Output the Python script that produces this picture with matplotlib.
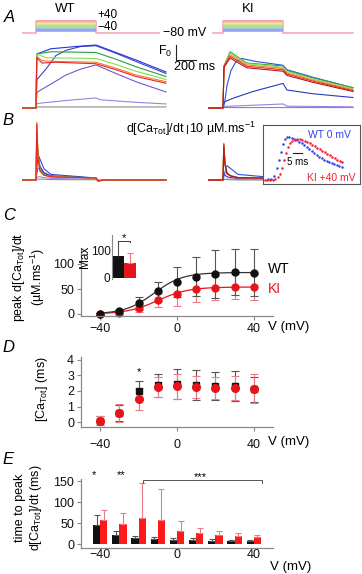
import numpy as np
import matplotlib.pyplot as plt

plt.rcParams['font.family'] = ['Liberation Sans', 'DejaVu Sans']
plt.rcParams['mathtext.fontset'] = 'custom'
plt.rcParams['mathtext.rm'] = 'Liberation Sans'
plt.rcParams['mathtext.it'] = 'Liberation Sans:italic'

# ---------------- data ----------------
volts = [-40, -30, -20, -10, 0, 10, 20, 30, 40]
pulse_ms = 600

# protocol band colours (-40 ... +40)
prot_cols = ['#a99be0', '#9b9ae6', '#8fa9ea', '#8dcfe0', '#96d88e',
             '#bae67a', '#efe27a', '#f7c18c', '#f5a0b4']

# A: fluorescence traces (time ms, F/F0) WT
a_wt_t = [[-140, 0, 10, 1300],
          [-140, 0, 10, 300, 600, 640, 1000, 1300],
          [-140, 0, 10, 150, 300, 450, 600, 800, 1000, 1300],
          [-140, 0, 10, 100, 200, 300, 450, 600, 800, 1000, 1300],
          [-140, 0, 8, 150, 400, 600, 800, 1000, 1300],
          [-140, 0, 8, 150, 600, 800, 1000, 1300],
          [-140, 0, 8, 100, 600, 800, 1000, 1300],
          [-140, 0, 8, 60, 200, 600, 800, 1000, 1300],
          [-140, 0, 8, 60, 200, 600, 800, 1000, 1300]]
a_wt_v = [[0, 0, 0.07, 0.07],
          [0, 0, 0.3, 0.5, 0.67, 0.55, 0.38, 0.27],
          [0, 0, 1.05, 1.6, 2.2, 2.6, 2.87, 2.3, 1.75, 1.07],
          [0, 0, 1.9, 2.6, 3.5, 3.85, 4.1, 4.15, 3.65, 3.1, 2.3],
          [0, 0, 3.6, 3.95, 4.1, 4.2, 3.7, 3.2, 2.4],
          [0, 0, 3.6, 3.75, 3.7, 3.25, 2.75, 2.1],
          [0, 0, 3.6, 3.35, 3.3, 2.9, 2.45, 1.9],
          [0, 0, 3.45, 3.15, 3.1, 3.05, 2.65, 2.2, 1.75],
          [0, 0, 3.35, 3.0, 3.05, 2.95, 2.55, 2.1, 1.65]]
wt_cols = ['#8c8c8c', '#9c80e6', '#7058d8', '#3a44c8', '#2233dd',
           '#2e9e3a', '#7fe04f', '#f5762a', '#e8231f']

# A: KI
a_ki_t = [[-150, 0, 10, 1300],
          [-150, 0, 10, 600, 640, 1300],
          [-150, 0, 10, 100, 300, 600, 640, 900, 1300],
          [-150, 0, 15, 40, 80, 130, 190, 330, 600, 640, 900, 1300],
          [-150, 0, 10, 70, 240, 600, 640, 900, 1300],
          [-150, 0, 10, 70, 240, 600, 640, 900, 1300],
          [-150, 0, 10, 70, 240, 600, 640, 900, 1300],
          [-150, 0, 10, 70, 240, 600, 640, 900, 1300],
          [-150, 0, 10, 70, 240, 600, 640, 900, 1300]]
a_ki_v = [[0, 0, 0.03, 0.03],
          [0, 0, 0.1, 0.27, 0.12, 0.08],
          [0, 0, 0.4, 0.65, 1.1, 1.64, 1.2, 0.95, 0.7],
          [0, 0, 0.3, 1.5, 2.5, 3.1, 3.3, 3.1, 2.85, 2.55, 2.05, 1.35],
          [0, 0, 2.8, 3.75, 3.0, 2.8, 2.5, 2.0, 1.35],
          [0, 0, 2.8, 3.65, 2.95, 2.72, 2.42, 1.93, 1.28],
          [0, 0, 2.8, 3.55, 2.87, 2.64, 2.34, 1.86, 1.22],
          [0, 0, 2.8, 3.45, 2.78, 2.55, 2.26, 1.79, 1.16],
          [0, 0, 2.7, 3.33, 2.68, 2.45, 2.17, 1.71, 1.1]]
ki_cols = ['#8c8c8c', '#9c80e6', '#2a3ab8', '#3050e0', '#3aa83a',
           '#8be050', '#f08a30', '#e83030', '#b81818']

# B: d[CaTot]/dt traces (uM/ms)
b_wt_t = [-140, 0, 8, 20, 40, 80, 150, 600, 620, 700, 1300]
b_wt_v = [[0, 0, 1, 1, 1, 1, 0.5, 0.3, 0, 0, 0],
          [0, 0, 3, 4, 4, 3, 2, 1, -0.5, 0, 0],
          [0, 0, 8, 15, 14, 9, 5, 2, -1, 0, 0],
          [0, 0, 15, 32, 26, 14, 7, 2.5, -1, 0, 0],
          [0, 0, 50, 32, 17, 9, 5, 2.5, -1, 0, 0],
          [0, 0, 62, 30, 13, 7, 4.5, 2.5, -1, 0, 0],
          [0, 0, 68, 29, 12, 6.5, 4, 2.5, -1, 0, 0],
          [0, 0, 72, 28, 12, 6, 4, 2.5, -1, 0, 0],
          [0, 0, 70, 27, 11, 6, 4, 2.5, -1, 0, 0]]
b_ki_t = [-150, 0, 8, 20, 40, 80, 150, 600, 620, 700, 1300]
b_ki_v = [[0, 0, 0.5, 0.5, 0.5, 0.3, 0.2, 0, 0, 0, 0],
          [0, 0, 1, 1, 1, 1, 0.5, 0.5, -1, 0, 0],
          [0, 0, 8, 6, 4, 3, 2, 2, -3, -1, 0],
          [0, 0, 4, 10, 18, 14, 7, 2, -2, -1, 0],
          [0, 0, 44, 20, 8, 5, 3, 2, -2, -1, 0],
          [0, 0, 45, 20, 8, 5, 3, 2, -2, -1, 0],
          [0, 0, 46, 21, 9, 5, 3, 2, -2, -1, 0],
          [0, 0, 45, 20, 8, 5, 3, 2, -2, -1, 0],
          [0, 0, 42, 19, 8, 5, 3, 2, -2, -1, 0]]

# B inset: normalised rate, time in ms
ins_wt_t = [2.8, 4.4, 6.1, 7.8, 8.9, 10.0, 11.1, 12.2, 13.3, 14.7, 16.1, 17.5,
            18.9, 20.3, 21.7, 23.1, 24.4, 25.8, 27.2, 28.6, 30.0, 31.4, 32.8,
            34.2, 35.6, 36.9, 38.3, 39.7, 41.1, 42.5, 43.9]
ins_wt_v = [0.085, 0.093, 0.136, 0.271, 0.407, 0.542, 0.678, 0.763, 0.797,
            0.797, 0.788, 0.771, 0.746, 0.72, 0.695, 0.661, 0.627, 0.593,
            0.559, 0.525, 0.492, 0.466, 0.441, 0.415, 0.39, 0.373, 0.356,
            0.339, 0.322, 0.305, 0.288]
ins_ki_t = [1.1, 2.5, 3.9, 5.3, 6.7, 8.1, 9.4, 10.6, 11.7, 12.8, 13.9, 15.0,
            16.4, 17.8, 19.2, 20.6, 21.9, 23.3, 24.7, 26.1, 27.5, 28.9, 30.3,
            31.7, 33.1, 34.4, 35.8, 37.2, 38.6, 40.0, 41.4, 42.8, 44.2]
ins_ki_v = [0.068, 0.068, 0.068, 0.076, 0.085, 0.119, 0.169, 0.271, 0.407,
            0.525, 0.627, 0.695, 0.729, 0.754, 0.763, 0.76, 0.75, 0.73, 0.71,
            0.69, 0.665, 0.64, 0.615, 0.59, 0.565, 0.54, 0.515, 0.49, 0.465,
            0.44, 0.415, 0.39, 0.37]

# C: peak d[CaTot]/dt
wt_peak = [1, 6, 22, 46, 64, 75, 80, 84, 83]
wt_peak_sd = [2, 3, 13, 19, 30, 39, 48, 46, 47]
ki_peak = [0, 3, 12, 28, 41, 51, 52, 55, 54]
ki_peak_sd = [2, 3, 8, 14, 24, 27, 24, 25, 26]
wt_fit = (83, -12, 7.5)   # max, V1/2, k
ki_fit = (54, -10, 8)
max_vals = [79, 55]
max_err = [50, 34]

# D: [CaTot]
wt_ca = [0.1, 0.6, 2.0, 2.35, 2.45, 2.4, 2.3, 2.3, 2.1]
wt_ca_sd = [0.3, 0.5, 0.6, 0.75, 0.95, 0.95, 0.9, 0.95, 0.8]
ki_ca = [0.1, 0.6, 1.5, 2.25, 2.3, 2.25, 2.2, 2.2, 2.15]
ki_ca_sd = [0.3, 0.55, 0.7, 0.65, 0.8, 0.7, 0.7, 0.75, 0.9]

# E: time to peak
wt_ttp = [45, 21, 14, 11, 10, 9, 8, 8, 7]
wt_ttp_err = [25, 10, 6, 6, 5, 5, 3, 2, 2]
ki_ttp = [57, 48, 62, 58, 32, 26, 22, 19, 16]
ki_ttp_err = [23, 27, 83, 73, 22, 13, 9, 7, 6]

# ---------------- figure ----------------
fig = plt.figure(figsize=(3.62, 5.74), dpi=100)
W, H = 362.0, 574.0
RED = '#e8141b'
PINK = '#f07a84'
GREY = '#888888'


def axbox(x0, y0, x1, y1):
    return fig.add_axes([x0 / W, 1 - y1 / H, (x1 - x0) / W, (y1 - y0) / H])


def ftext(x, y, s, **kw):
    kw.setdefault('ha', 'center')
    kw.setdefault('va', 'center')
    fig.text(x / W, 1 - y / H, s, **kw)


def boltz(v, gmax, vh, k):
    return gmax / (1 + np.exp((vh - v) / k))


# panel letters
for lab, x, y in [('A', 9, 18), ('B', 8, 121), ('C', 9, 216), ('D', 8, 348), ('E', 8, 460)]:
    ftext(x, y, lab, fontsize=12, style='italic')

# ---- A: protocol ----
for (x0, x1, lim, b0, b1) in [(22, 170, (-140, 1340), -140, 1230),
                             (208, 356, (-150, 1330), -100, 1300)]:
    ax = axbox(x0, 14, x1, 37)
    ax.set_xlim(*lim)
    ax.set_ylim(-4, 19)
    ax.axis('off')
    top = 1.6 + 1.3 * (len(prot_cols) - 1)
    ax.plot([b0, 0, 0, pulse_ms, pulse_ms, b1], [0, 0, top, top, 0, 0],
            color=prot_cols[-1], lw=1.1)
    for i, c in enumerate(prot_cols):
        ax.plot([0, pulse_ms], [1.6 + 1.3 * i] * 2, color=c, lw=1.15,
                solid_capstyle='butt')

ftext(65, 9, 'WT', fontsize=9.5)
ftext(248, 9, 'KI', fontsize=9.5)
ftext(97, 14.5, '+40', fontsize=8.5, ha='left')
ftext(97, 27, '\u221240', fontsize=8.5, ha='left')
ftext(163, 33, '\u221280 mV', fontsize=9, ha='left')

# ---- A: fluorescence ----
axA1 = axbox(22, 42, 170, 110)
axA1.set_xlim(-140, 1340)
axA1.set_ylim(-0.133, 4.4)
for t, v, c in zip(a_wt_t, a_wt_v, wt_cols):
    axA1.plot(t, v, color=c, lw=0.8)
axA1.axis('off')
# scale bars
axA1.plot([1400, 1400, 1600], [4.2, 3.2, 3.2], color='#222', lw=0.8, clip_on=False)
ftext(172, 51, 'F$_0$', fontsize=9, ha='right')
ftext(195, 67, '200 ms', fontsize=9)

axA2 = axbox(208, 42, 356, 110)
axA2.set_xlim(-150, 1330)
axA2.set_ylim(-0.133, 4.4)
for t, v, c in zip(a_ki_t, a_ki_v, ki_cols):
    axA2.plot(t, v, color=c, lw=0.8)
axA2.axis('off')

# ---- B: derivative traces ----
axB1 = axbox(22, 115, 170, 185)
axB1.set_xlim(-140, 1340)
axB1.set_ylim(-6.25, 81.25)
for v, c in zip(b_wt_v, wt_cols):
    axB1.plot(b_wt_t, v, color=c, lw=0.8)
axB1.axis('off')
axB1.plot([1510, 1510], [59, 69], color='#222', lw=0.8, clip_on=False)
ftext(185, 129, 'd[Ca$_{\\mathrm{Tot}}$]/dt', fontsize=9, ha='right')
ftext(189, 129, '10 \u00b5M.ms$^{-1}$', fontsize=9, ha='left')

axB2 = axbox(208, 115, 356, 185)
axB2.set_xlim(-150, 1330)
axB2.set_ylim(-6.25, 81.25)
for v, c in zip(b_ki_v, ki_cols):
    axB2.plot(b_ki_t, v, color=c, lw=0.8)
axB2.axis('off')

# inset
axI = axbox(263, 125, 360, 184)
axI.set_xlim(0, 54)
axI.set_ylim(0, 1)
axI.plot(ins_wt_t, ins_wt_v, 'o', color='#3344ee', ms=1.8, mew=0)
axI.plot(ins_ki_t, ins_ki_v, 'o', color='#ee2233', ms=1.8, mew=0)
axI.plot([16.7, 21.7], [0.53, 0.53], color='#222', lw=0.8)
axI.text(19, 0.38, '5 ms', fontsize=7, ha='center', va='center')
axI.text(37.2, 0.83, 'WT 0 mV', fontsize=7.5, color='#3344ee', ha='center', va='center')
axI.text(37.8, 0.1, 'KI +40 mV', fontsize=7.5, color='#ee2233', ha='center', va='center')
axI.set_xticks([])
axI.set_yticks([])
for s in axI.spines.values():
    s.set_color('#555')
    s.set_linewidth(0.8)


def style(ax, xpad=3, xlen=3):
    for s in ['top', 'right']:
        ax.spines[s].set_visible(False)
    for s in ['left', 'bottom']:
        ax.spines[s].set_color(GREY)
        ax.spines[s].set_linewidth(0.9)
    ax.tick_params(axis='both', colors=GREY, labelcolor='#111', labelsize=9,
                   width=0.8, length=3, pad=2)
    ax.tick_params(axis='x', pad=xpad, length=xlen)


def unclip(ax):
    for a in ax.lines + list(ax.collections) + list(ax.patches):
        a.set_clip_on(False)


# ---- C ----
axC = axbox(81, 248, 273, 316)
axC.set_xlim(-50, 50)
axC.set_ylim(-4, 132)
vf = np.linspace(-40, 40, 200)
axC.plot(vf, boltz(vf, *ki_fit), color=RED, lw=0.9)
axC.plot(vf, boltz(vf, *wt_fit), color='#333', lw=0.9)
axC.errorbar(volts, ki_peak, yerr=ki_peak_sd, fmt='o', color=RED, ecolor=PINK,
             ms=5, capsize=3, elinewidth=0.8, capthick=0.8)
axC.errorbar(volts, wt_peak, yerr=wt_peak_sd, fmt='o', color='#111', ecolor='#555',
             ms=5, capsize=3, elinewidth=0.8, capthick=0.8)
axC.set_xticks([-40, 0, 40])
axC.set_yticks([0, 50, 100])
style(axC, xpad=2)
unclip(axC)
ftext(268, 327, 'V (mV)', fontsize=9.5, ha='left')
ftext(268, 269, 'WT', fontsize=10, ha='left')
ftext(268, 289, 'KI', fontsize=10, ha='left', color=RED)
ftext(29, 277, 'peak d[Ca$_{\\mathrm{Tot}}$]/dt\n(\u00b5M.ms$^{-1}$)', fontsize=9,
      rotation=90, multialignment='center')

# C inset
axCi = axbox(112, 235, 136, 279)
axCi.set_xlim(-0.5, 1.5)
axCi.set_ylim(-3.6, 153.6)
axCi.bar([0, 1], max_vals, width=1, color=['#111', RED])
axCi.errorbar([0], [max_vals[0]], yerr=[[0], [max_err[0]]], fmt='none',
              ecolor='#555', elinewidth=0.8, capsize=0)
axCi.errorbar([1], [max_vals[1]], yerr=[[0], [max_err[1]]], fmt='none',
              ecolor=PINK, elinewidth=0.8, capsize=2.5, capthick=0.8)
axCi.plot([0, 0, 1, 1], [128, 133, 133, 128], color='#333', lw=0.7, clip_on=False)
axCi.text(0.5, 143, '*', fontsize=8, ha='center', va='center')
axCi.set_xticks([])
axCi.set_yticks([0, 100])
for s in ['top', 'right', 'bottom']:
    axCi.spines[s].set_visible(False)
axCi.spines['left'].set_color(GREY)
axCi.tick_params(axis='y', colors=GREY, labelcolor='#111', labelsize=8.5,
                 length=0, pad=1)
axCi.set_ylabel('Max', fontsize=8.5, labelpad=0)
unclip(axCi)

# ---- D ----
axD = axbox(81, 357, 273, 427)
axD.set_xlim(-50, 50)
axD.set_ylim(-0.3, 4.16)
axD.errorbar(volts, wt_ca, yerr=wt_ca_sd, fmt='s', color='#111', ecolor='#555',
             ms=4.5, capsize=3, elinewidth=0.8, capthick=0.8)
axD.errorbar(volts, ki_ca, yerr=ki_ca_sd, fmt='o', color=RED, ecolor=PINK,
             ms=5.5, capsize=3, elinewidth=0.8, capthick=0.8)
axD.text(-20, 3.2, '*', fontsize=8, ha='center', va='center')
axD.set_xticks([-40, 0, 40])
axD.set_yticks([0, 1, 2, 3, 4])
style(axD, xpad=6)
unclip(axD)
ftext(268, 442, 'V (mV)', fontsize=9.5, ha='left')
ftext(42, 389, '[Ca$_{\\mathrm{Tot}}$] (ms)', fontsize=9, rotation=90)

# ---- E ----
axE = axbox(81, 479, 273, 548)
axE.set_xlim(-50, 50)
axE.set_ylim(-9.5, 154.8)
vx = np.array(volts)
axE.bar(vx - 1.9, wt_ttp, width=3.8, color='#111')
axE.bar(vx + 1.9, ki_ttp, width=3.8, color='#ff1a1a')
axE.errorbar(vx - 1.9, wt_ttp, yerr=[np.zeros(9), wt_ttp_err], fmt='none',
             ecolor='#555', elinewidth=0.8, capsize=2.5, capthick=0.8)
axE.errorbar(vx + 1.9, ki_ttp, yerr=[np.zeros(9), ki_ttp_err], fmt='none',
             ecolor=PINK, elinewidth=0.8, capsize=2.5, capthick=0.8)
axE.text(-43, 164, '*', fontsize=8, ha='center', va='center')
axE.text(-29, 164, '**', fontsize=8, ha='center', va='center')
axE.plot([-17.8, -17.8, 44.3, 44.3], [146, 152, 152, 146], color='#555', lw=0.7)
axE.text(12, 160, '***', fontsize=8, ha='center', va='center')
axE.set_xticks([-40, 0, 40])
axE.set_yticks([0, 50, 100, 150])
style(axE, xpad=0.5, xlen=0)
unclip(axE)
ftext(270, 567, 'V (mV)', fontsize=9.5, ha='left')
ftext(29, 508, 'time to peak\nd[Ca$_{\\mathrm{Tot}}$]/dt (ms)', fontsize=9,
      rotation=90, multialignment='center')

fig.savefig('out.png', dpi=100)
